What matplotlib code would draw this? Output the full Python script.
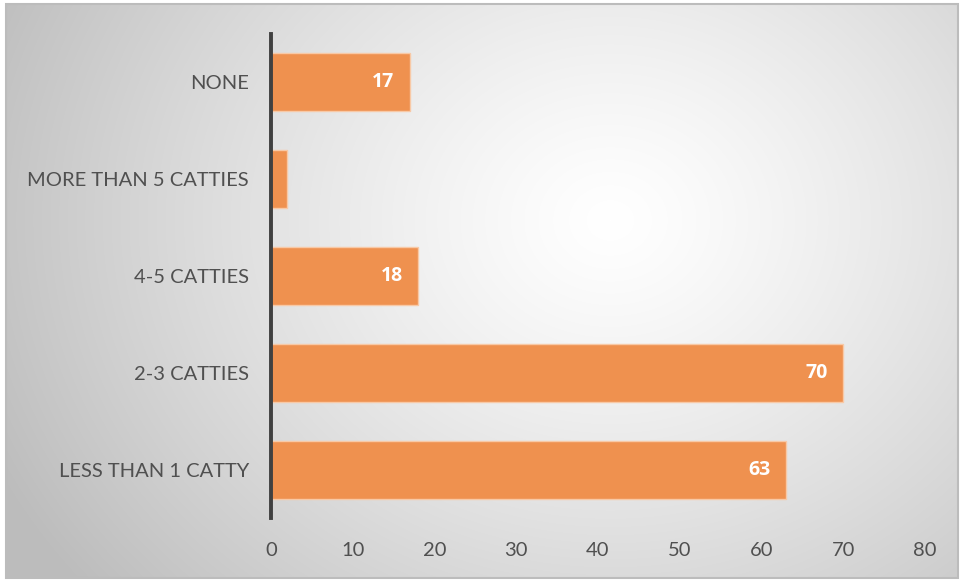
import numpy as np
import matplotlib.pyplot as plt
from matplotlib.patches import Rectangle

plt.rcParams['font.family'] = ['Lato', 'DejaVu Sans']

categories = ["LESS THAN 1 CATTY", "2-3 CATTIES", "4-5 CATTIES",
              "MORE THAN 5 CATTIES", "NONE"]
values = [63, 70, 18, 2, 17]
labels = ["63", "70", "18", "", "17"]
xticks = [0, 10, 20, 30, 40, 50, 60, 70, 80]

W, H = 960, 580
fig = plt.figure(figsize=(W / 100, H / 100), dpi=100)

# radial grey-to-white background inside a thin frame
bg = fig.add_axes([0, 0, 1, 1], zorder=-10)
bg.set_axis_off()
x0, x1, y0, y1 = 6, 958, 4, 578
yy, xx = np.mgrid[0:H, 0:W]
cx, cy = 610, 220
r = np.hypot((xx - cx) / 1.0, (yy - cy) / 0.85)
t = np.clip(r / 680, 0, 1) ** 1.25
val = 1.0 - t * (1.0 - 0.74)
img = np.ones((H, W, 3))
inside = (xx >= x0) & (xx <= x1) & (yy >= y0) & (yy <= y1)
for c in range(3):
    ch = img[..., c]
    ch[inside] = val[inside]
bg.imshow(img, extent=[0, W, H, 0], aspect='auto', interpolation='bilinear')
bg.add_patch(Rectangle((x0, y0), x1 - x0, y1 - y0, fill=False,
                       edgecolor='#bcbcbc', linewidth=1.5))
bg.set_xlim(0, W)
bg.set_ylim(H, 0)

ax = fig.add_axes([271 / W, 1 - 518 / H, (925 - 271) / W, (518 - 34) / H])
ax.patch.set_alpha(0)
ypos = np.arange(len(categories))
bars = ax.barh(ypos, values, height=0.6, color='#EF914F',
               edgecolor='#F8C9A6', linewidth=1.0, zorder=2)
for b, lab in zip(bars, labels):
    if lab:
        ax.text(b.get_width() - 1.9, b.get_y() + b.get_height() / 2, lab,
                ha='right', va='center', color='white', fontsize=14,
                fontweight='bold', family=['Open Sans', 'DejaVu Sans'])

ax.set_xlim(0, 80)
ax.set_ylim(-0.5, 4.5)
ax.set_yticks(ypos)
ax.set_yticklabels(categories)
ax.set_xticks(xticks)
for s in ['top', 'right', 'bottom']:
    ax.spines[s].set_visible(False)
ax.spines['left'].set_color('#404040')
ax.spines['left'].set_linewidth(2.8)
ax.spines['left'].set_zorder(3)
ax.tick_params(axis='both', length=0, labelsize=14.5, labelcolor='#505050')
ax.tick_params(axis='y', pad=16)
ax.tick_params(axis='x', pad=17)

fig.savefig('out.png', dpi=100)
